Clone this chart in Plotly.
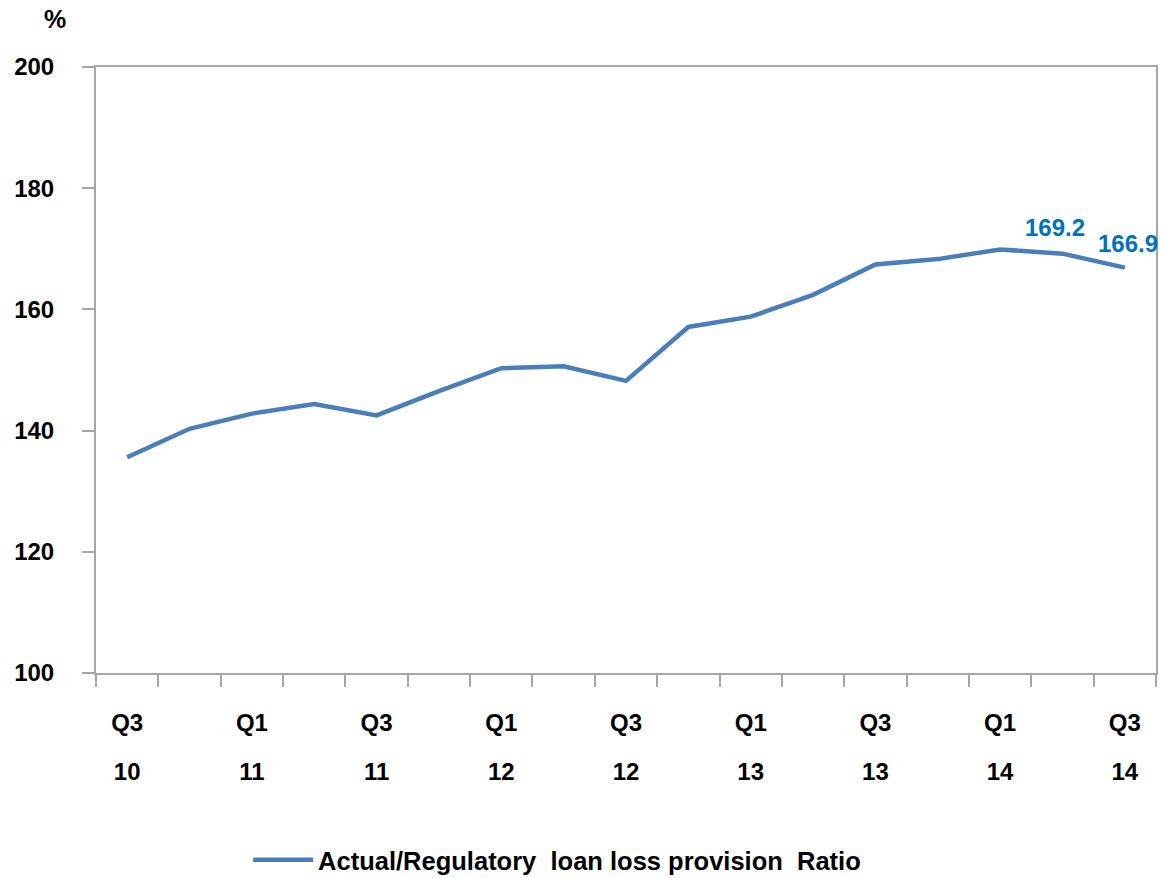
import plotly.graph_objects as go

quarters = ["Q3 10", "Q4 10", "Q1 11", "Q2 11", "Q3 11", "Q4 11", "Q1 12", "Q2 12",
            "Q3 12", "Q4 12", "Q1 13", "Q2 13", "Q3 13", "Q4 13", "Q1 14", "Q2 14", "Q3 14"]
ratio = [135.6, 140.3, 142.8, 144.4, 142.5, 146.5, 150.3, 150.6,
         148.2, 157.1, 158.8, 162.4, 167.4, 168.3, 169.9, 169.2, 166.9]
tick_quarter = ["Q3", "", "Q1", "", "Q3", "", "Q1", "", "Q3", "", "Q1", "", "Q3", "", "Q1", "", "Q3"]
tick_year = ["10", "", "11", "", "11", "", "12", "", "12", "", "13", "", "13", "", "14", "", "14"]
labelled = [15, 16]
series_name = "Actual/Regulatory\u00a0\u00a0loan\u00a0loss\u00a0provision\u00a0\u00a0Ratio"

FONT = "Arial, Liberation Sans, sans-serif"
AXIS_COLOR = "#a6a6a6"
BIG = "font-size:24px"

tick_text = [
    f"<span style='{BIG}'>{q}</span><br> <br><span style='{BIG}'>{y}</span>" if q else ""
    for q, y in zip(tick_quarter, tick_year)
]

fig = go.Figure()
fig.add_trace(go.Scatter(
    x=quarters, y=ratio, mode="lines", name=series_name,
    line=dict(color="#4a7ebb", width=4.5),
))

for i in labelled:
    fig.add_annotation(
        x=quarters[i], y=ratio[i], text=f"{ratio[i]:.1f}", showarrow=False,
        yshift=26 if i == 15 else 24, xshift=-7 if i == 15 else 3,
        font=dict(family=FONT, size=24, color="#0070c0", weight="bold"),
    )

fig.add_annotation(
    xref="paper", yref="paper", x=-0.039, y=1.08, text="%", showarrow=False,
    xanchor="center", yanchor="middle",
    font=dict(family=FONT, size=25, color="black", weight="bold"),
)

fig.update_layout(
    width=1161, height=878,
    margin=dict(l=96, r=5, t=67, b=205, autoexpand=False),
    paper_bgcolor="white", plot_bgcolor="white",
    showlegend=True,
    legend=dict(
        orientation="h", x=0.435, xanchor="center", y=-0.309, yanchor="middle",
        font=dict(family=FONT, size=25.5, color="black", weight="bold"),
        itemwidth=60,
    ),
    font=dict(family=FONT),
)

fig.update_xaxes(
    type="category", tickmode="array", tickvals=quarters, ticktext=tick_text,
    range=[-0.5, len(quarters) - 0.5], automargin=False,
    tickson="boundaries", ticks="outside", ticklen=12, tickcolor=AXIS_COLOR, tickwidth=2,
    showline=True, linecolor=AXIS_COLOR, linewidth=2, mirror=True,
    showgrid=False, tickangle=0, ticklabelstandoff=33,
    tickfont=dict(family=FONT, size=19, color="black", weight="bold"),
)
fig.update_yaxes(
    range=[100, 200], dtick=20, tick0=100, automargin=False,
    ticks="outside", ticklen=12, tickcolor=AXIS_COLOR, tickwidth=2,
    showline=True, linecolor=AXIS_COLOR, linewidth=2, mirror=True,
    showgrid=False, zeroline=False, ticklabelstandoff=23,
    tickfont=dict(family=FONT, size=24, color="black", weight="bold"),
)

fig.write_html("out.html")
